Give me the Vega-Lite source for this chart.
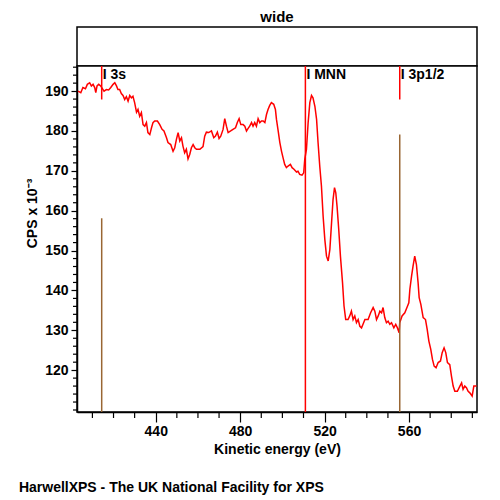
{
  "$schema": "https://vega.github.io/schema/vega-lite/v6.json",
  "padding": {"left": 18, "top": 9, "right": 5, "bottom": 5},
  "background": "white",
  "config": {
    "font": "Liberation Sans",
    "view": {"stroke": "black", "strokeWidth": 1.5},
    "axis": {"domainColor": "black", "tickColor": "black", "labelColor": "black", "titleColor": "black", "labelFont": "Liberation Sans", "titleFont": "Liberation Sans", "labelFontWeight": "bold", "titleFontWeight": "bold", "labelFontSize": 14, "titleFontSize": 14, "grid": false, "domainWidth": 1.5, "tickWidth": 1.2},
    "title": {"font": "Liberation Sans", "fontWeight": "bold", "fontSize": 15, "color": "black"}
  },
  "title": {"text": "HarwellXPS - The UK National Facility for XPS", "orient": "bottom", "anchor": "start", "fontSize": 14, "offset": 24, "frame": "bounds", "dx": -6},
  "spacing": 0,
  "bounds": "flush",
  "vconcat": [
    {
      "width": 400,
      "height": 39,
      "view": {"stroke": "black", "strokeWidth": 1.5, "fill": "white"},
      "title": {"text": "wide", "offset": 2},
      "data": {"values": [{"t": ""}]},
      "mark": {"type": "text"},
      "encoding": {"text": {"field": "t"}}
    },
    {
      "width": 400,
      "height": 346,
      "view": {"stroke": "black", "strokeWidth": 1.5, "fill": "white"},
      "layer": [
        {
          "data": {"values": [
            {"E":403.2,"cps":190.0},{"E":404.5,"cps":189.6},{"E":405.5,"cps":190.9},{"E":406.7,"cps":190.6},{"E":407.6,"cps":191.7},{"E":408.7,"cps":192.1},{"E":409.5,"cps":191.3},{"E":410.3,"cps":191.7},{"E":411.1,"cps":190.9},{"E":411.6,"cps":189.6},{"E":412.2,"cps":191.3},{"E":413.0,"cps":191.7},{"E":413.9,"cps":191.3},{"E":415.5,"cps":190.0},{"E":416.6,"cps":190.4},{"E":417.7,"cps":190.3},{"E":418.7,"cps":190.9},{"E":419.8,"cps":191.7},{"E":420.6,"cps":192.1},{"E":421.4,"cps":191.3},{"E":422.1,"cps":190.4},{"E":422.9,"cps":190.4},{"E":423.7,"cps":189.4},{"E":424.5,"cps":188.9},{"E":425.3,"cps":187.9},{"E":426.1,"cps":188.6},{"E":426.9,"cps":187.5},{"E":427.7,"cps":188.9},{"E":428.5,"cps":188.3},{"E":429.2,"cps":188.7},{"E":430.0,"cps":187.1},{"E":430.9,"cps":184.7},{"E":431.6,"cps":185.4},{"E":432.4,"cps":183.7},{"E":433.2,"cps":184.6},{"E":434.0,"cps":181.6},{"E":434.8,"cps":181.2},{"E":435.6,"cps":182.1},{"E":436.3,"cps":179.6},{"E":437.2,"cps":179.1},{"E":438.0,"cps":180.8},{"E":438.7,"cps":182.1},{"E":439.5,"cps":182.5},{"E":440.8,"cps":182.5},{"E":441.9,"cps":181.6},{"E":443.0,"cps":180.4},{"E":443.9,"cps":180.0},{"E":445.1,"cps":178.3},{"E":445.8,"cps":177.1},{"E":447.1,"cps":176.6},{"E":448.2,"cps":174.9},{"E":449.0,"cps":175.8},{"E":449.8,"cps":177.9},{"E":450.6,"cps":179.6},{"E":451.4,"cps":177.5},{"E":452.2,"cps":178.3},{"E":452.9,"cps":176.2},{"E":453.7,"cps":174.5},{"E":454.5,"cps":175.4},{"E":455.3,"cps":173.0},{"E":456.1,"cps":174.1},{"E":456.9,"cps":175.8},{"E":457.7,"cps":176.6},{"E":458.5,"cps":175.8},{"E":459.3,"cps":175.4},{"E":460.9,"cps":175.4},{"E":462.4,"cps":176.1},{"E":463.2,"cps":178.7},{"E":464.0,"cps":179.7},{"E":465.1,"cps":179.6},{"E":466.4,"cps":180.0},{"E":467.5,"cps":178.3},{"E":468.3,"cps":178.7},{"E":469.2,"cps":179.7},{"E":470.0,"cps":178.1},{"E":470.8,"cps":178.7},{"E":471.9,"cps":180.4},{"E":472.7,"cps":183.1},{"E":473.5,"cps":181.2},{"E":474.3,"cps":179.6},{"E":475.5,"cps":180.0},{"E":476.6,"cps":180.4},{"E":477.8,"cps":180.8},{"E":478.7,"cps":182.2},{"E":479.5,"cps":183.1},{"E":480.3,"cps":181.6},{"E":481.4,"cps":181.6},{"E":482.2,"cps":181.2},{"E":483.0,"cps":180.0},{"E":483.7,"cps":180.6},{"E":484.5,"cps":181.2},{"E":485.4,"cps":182.1},{"E":486.1,"cps":181.2},{"E":486.9,"cps":182.1},{"E":487.7,"cps":181.2},{"E":488.5,"cps":183.1},{"E":489.3,"cps":182.1},{"E":490.1,"cps":182.5},{"E":490.9,"cps":182.5},{"E":491.7,"cps":182.1},{"E":492.5,"cps":184.2},{"E":493.2,"cps":185.4},{"E":494.0,"cps":186.4},{"E":494.8,"cps":187.1},{"E":495.9,"cps":186.7},{"E":496.7,"cps":185.4},{"E":497.2,"cps":182.9},{"E":497.9,"cps":180.4},{"E":498.8,"cps":177.1},{"E":499.6,"cps":174.9},{"E":500.3,"cps":173.3},{"E":501.1,"cps":171.6},{"E":501.9,"cps":170.8},{"E":502.7,"cps":171.2},{"E":503.8,"cps":171.6},{"E":504.6,"cps":170.8},{"E":505.5,"cps":170.4},{"E":506.7,"cps":169.7},{"E":507.4,"cps":169.9},{"E":508.2,"cps":169.1},{"E":509.3,"cps":168.9},{"E":510.1,"cps":169.5},{"E":510.6,"cps":172.9},{"E":511.4,"cps":175.4},{"E":512.2,"cps":182.1},{"E":513.0,"cps":187.1},{"E":513.8,"cps":188.9},{"E":514.5,"cps":188.3},{"E":515.4,"cps":186.2},{"E":516.2,"cps":182.9},{"E":516.9,"cps":177.1},{"E":517.7,"cps":171.2},{"E":518.5,"cps":166.2},{"E":519.3,"cps":158.6},{"E":520.1,"cps":152.8},{"E":520.9,"cps":148.6},{"E":521.7,"cps":147.4},{"E":522.5,"cps":150.3},{"E":523.3,"cps":157.0},{"E":524.0,"cps":162.8},{"E":524.7,"cps":165.8},{"E":525.3,"cps":164.5},{"E":525.9,"cps":161.1},{"E":526.7,"cps":155.3},{"E":527.5,"cps":148.6},{"E":528.5,"cps":141.9},{"E":529.2,"cps":136.1},{"E":530.0,"cps":132.7},{"E":531.1,"cps":132.7},{"E":531.9,"cps":133.6},{"E":532.7,"cps":134.8},{"E":533.5,"cps":132.7},{"E":534.3,"cps":133.6},{"E":535.1,"cps":131.9},{"E":535.9,"cps":132.7},{"E":536.7,"cps":131.0},{"E":537.5,"cps":130.6},{"E":538.2,"cps":131.5},{"E":539.1,"cps":132.7},{"E":540.6,"cps":132.7},{"E":541.8,"cps":134.4},{"E":543.0,"cps":135.7},{"E":543.8,"cps":134.8},{"E":544.6,"cps":132.7},{"E":545.4,"cps":133.6},{"E":546.2,"cps":134.8},{"E":547.0,"cps":134.4},{"E":547.7,"cps":135.7},{"E":548.5,"cps":133.2},{"E":549.3,"cps":131.9},{"E":550.1,"cps":132.3},{"E":550.9,"cps":131.5},{"E":551.7,"cps":131.9},{"E":552.8,"cps":130.6},{"E":553.7,"cps":131.5},{"E":554.5,"cps":130.6},{"E":555.3,"cps":129.4},{"E":555.6,"cps":131.9},{"E":556.7,"cps":133.6},{"E":558.0,"cps":134.4},{"E":559.3,"cps":136.1},{"E":559.9,"cps":136.9},{"E":560.4,"cps":140.3},{"E":561.2,"cps":143.6},{"E":561.9,"cps":146.1},{"E":562.7,"cps":148.6},{"E":563.5,"cps":146.5},{"E":564.3,"cps":141.9},{"E":564.8,"cps":138.2},{"E":565.6,"cps":136.5},{"E":566.7,"cps":133.2},{"E":567.8,"cps":132.7},{"E":568.6,"cps":130.2},{"E":569.4,"cps":127.3},{"E":570.3,"cps":125.2},{"E":571.1,"cps":122.7},{"E":571.9,"cps":121.0},{"E":572.8,"cps":120.6},{"E":573.8,"cps":121.9},{"E":574.9,"cps":122.3},{"E":575.7,"cps":124.4},{"E":576.6,"cps":125.6},{"E":577.4,"cps":124.4},{"E":578.2,"cps":121.9},{"E":579.3,"cps":121.4},{"E":580.1,"cps":118.5},{"E":580.9,"cps":116.0},{"E":581.7,"cps":114.7},{"E":582.9,"cps":114.7},{"E":584.1,"cps":116.0},{"E":584.9,"cps":116.8},{"E":585.6,"cps":115.2},{"E":586.4,"cps":116.0},{"E":587.2,"cps":115.6},{"E":588.0,"cps":114.7},{"E":588.8,"cps":114.3},{"E":589.9,"cps":113.5},{"E":590.7,"cps":116.0},{"E":592.0,"cps":116.0}
          ]},
          "mark": {"type": "line", "color": "#ff0000", "strokeWidth": 1.5, "clip": true},
          "encoding": {
            "x": {"field": "E", "type": "quantitative", "scale": {"domain": [402.7, 592.2], "nice": false, "zero": false}, "axis": {"orient": "bottom", "values": [440, 480, 520, 560], "tickSize": 10, "labelPadding": 2, "title": "Kinetic energy (eV)", "titlePadding": 4}},
            "y": {"field": "cps", "type": "quantitative", "scale": {"domain": [109.5, 196.3], "nice": false, "zero": false}, "axis": {"orient": "left", "values": [120, 130, 140, 150, 160, 170, 180, 190], "tickSize": 6, "labelPadding": 3, "title": "CPS x 10⁻³", "titleY": 147, "titlePadding": 5}}
          }
        },
        {
          "data": {"values": [
            {"E": 410}, {"E": 420}, {"E": 430}, {"E": 450}, {"E": 460}, {"E": 470}, {"E": 490}, {"E": 500}, {"E": 510}, {"E": 530}, {"E": 540}, {"E": 550}, {"E": 570}, {"E": 580}, {"E": 590}
          ]},
          "mark": {"type": "rule", "clip": false, "color": "black", "strokeWidth": 1.2, "y2Offset": 6},
          "encoding": {
            "x": {"field": "E", "type": "quantitative"},
            "y": {"datum": 109.5, "type": "quantitative"},
            "y2": {"datum": 109.5}
          }
        },
        {
          "data": {"values": [
            {"v": 110}, {"v": 112}, {"v": 114}, {"v": 116}, {"v": 118}, {"v": 122}, {"v": 124}, {"v": 126}, {"v": 128}, {"v": 132}, {"v": 134}, {"v": 136}, {"v": 138}, {"v": 142}, {"v": 144}, {"v": 146}, {"v": 148}, {"v": 152}, {"v": 154}, {"v": 156}, {"v": 158}, {"v": 162}, {"v": 164}, {"v": 166}, {"v": 168}, {"v": 172}, {"v": 174}, {"v": 176}, {"v": 178}, {"v": 182}, {"v": 184}, {"v": 186}, {"v": 188}, {"v": 192}, {"v": 194}, {"v": 196}
          ]},
          "mark": {"type": "rule", "clip": false, "color": "black", "strokeWidth": 1.2, "x2Offset": -4},
          "encoding": {
            "y": {"field": "v", "type": "quantitative"},
            "x": {"datum": 402.7, "type": "quantitative"},
            "x2": {"datum": 402.7}
          }
        },
        {
          "data": {"values": [
            {"name": "3s", "E": 414.4, "y": 187.9, "y2": 196.3, "kind": "label"},
            {"name": "3s", "E": 414.4, "y": 109.5, "y2": 158.1, "kind": "ref"},
            {"name": "MNN", "E": 510.9, "y": 109.5, "y2": 196.3, "kind": "label"},
            {"name": "3p1/2", "E": 555.6, "y": 187.9, "y2": 196.3, "kind": "label"},
            {"name": "3p1/2", "E": 555.6, "y": 109.5, "y2": 179.1, "kind": "ref"}
          ]},
          "mark": {"type": "rule", "strokeWidth": 1.5},
          "encoding": {
            "x": {"field": "E", "type": "quantitative"},
            "y": {"field": "y", "type": "quantitative"},
            "y2": {"field": "y2"},
            "color": {"field": "kind", "type": "nominal", "scale": {"domain": ["label", "ref"], "range": ["#ff0000", "#996633"]}, "legend": null}
          }
        },
        {
          "data": {"values": [
            {"label": "I 3s", "E": 414.4, "y": 196.3},
            {"label": "I MNN", "E": 510.9, "y": 196.3},
            {"label": "I 3p1/2", "E": 555.6, "y": 196.3}
          ]},
          "mark": {"type": "text", "align": "left", "baseline": "top", "dx": 1, "dy": 2, "fontSize": 14, "fontWeight": "bold", "font": "Liberation Sans", "color": "black"},
          "encoding": {
            "x": {"field": "E", "type": "quantitative"},
            "y": {"field": "y", "type": "quantitative"},
            "text": {"field": "label"}
          }
        }
      ]
    }
  ]
}
